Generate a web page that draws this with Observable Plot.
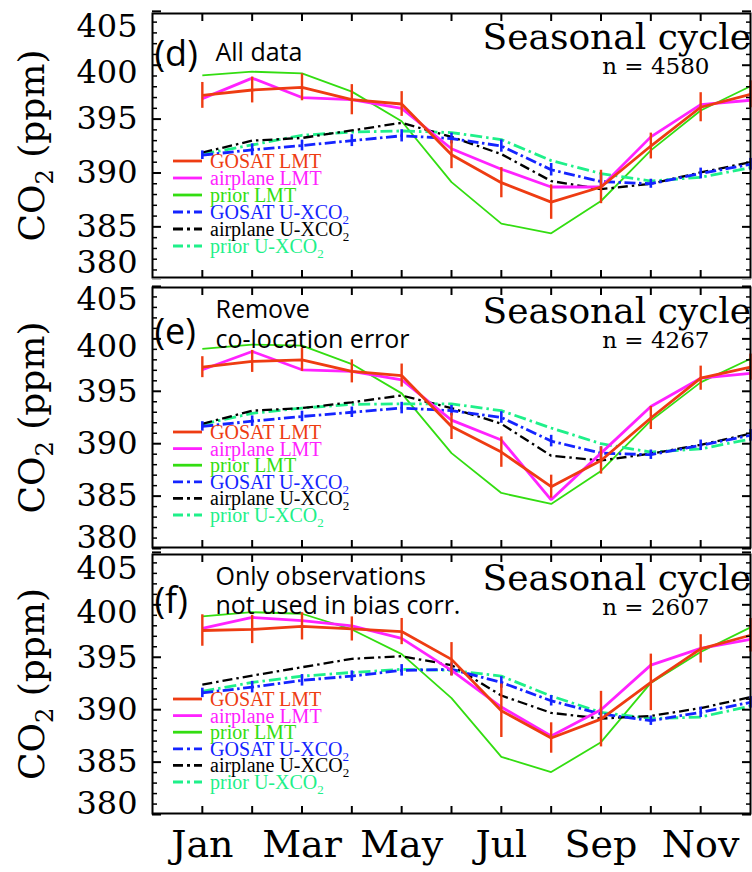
<!DOCTYPE html>
<html>
<head>
<meta charset="utf-8">
<script src="https://cdn.jsdelivr.net/npm/d3@7"></script>
<script src="https://cdn.jsdelivr.net/npm/@observablehq/plot@0.6"></script>
<style>
  html, body { margin: 0; padding: 0; background: #fff; }
  #chart { position: relative; width: 752px; height: 872px; overflow: hidden; background: #fff; }
  .layer { position: absolute; left: 0; }
</style>
</head>
<body>
<div id="chart"></div>
<script>
// ---------------- data ----------------
const months = [1, 2, 3, 4, 5, 6, 7, 8, 9, 10, 11, 12];
const monthLabels = ["Jan", "Feb", "Mar", "Apr", "May", "Jun", "Jul", "Aug", "Sep", "Oct", "Nov", "Dec"];
const labelledMonths = [1, 3, 5, 7, 9, 11];
const majorTicks = [380, 385, 390, 395, 400, 405];

const seriesNames = ["GOSAT LMT", "airplane LMT", "prior LMT", "GOSAT U-XCO2", "airplane U-XCO2", "prior U-XCO2"];
const panelLetters = ["(d)", "(e)", "(f)"];
const panelNotes = [["All data"], ["Remove", "co-location error"], ["Only observations", "not used in bias corr."]];
const panelTitle = "Seasonal cycle";
const panelCounts = [4580, 4267, 2607];

// (d) All data
const dGosatLMT    = [397.2, 397.7, 397.95, 396.8, 396.4, 391.7, 389.1, 387.3, 388.7, 392.5, 396.1, 397.3];
const dGosatLMTerr = [1.2, 1.2, 1.25, 1.4, 1.15, 1.3, 1.4, 1.6, 1.55, 1.2, 1.35, 1.25];
const dAirplaneLMT = [396.9, 398.8, 397.0, 396.8, 396.0, 392.25, 390.35, 388.7, 388.7, 393.35, 396.35, 396.75];
const dPriorLMT    = [399.05, 399.4, 399.25, 397.55, 394.8, 389.15, 385.3, 384.4, 387.4, 392.1, 395.8, 398.05];
const dGosatU      = [391.65, 392.15, 392.55, 393.0, 393.45, 393.2, 392.5, 390.3, 389.2, 389.0, 389.95, 390.8];
const dGosatUerr   = [0.4, 0.55, 0.5, 0.55, 0.57, 0.5, 0.57, 0.58, 0.57, 0.42, 0.5, 0.55];
const dAirplaneU   = [391.9, 393.0, 393.25, 393.95, 394.65, 393.35, 391.75, 389.25, 388.5, 389.0, 390.05, 391.0];
const dPriorU      = [391.75, 392.6, 393.5, 393.8, 393.9, 393.75, 393.1, 391.15, 389.95, 389.25, 389.6, 390.5];

// (e) Remove co-location error
const eGosatLMT    = [397.3, 397.85, 398.0, 396.9, 396.5, 391.65, 389.2, 385.9, 388.4, 392.45, 396.25, 397.3];
const eGosatLMTerr = [1.0, 1.05, 1.1, 1.1, 1.1, 1.25, 1.45, 1.1, 1.3, 1.1, 1.15, 1.25];
const eAirplaneLMT = [397.05, 398.8, 397.05, 396.9, 396.1, 392.25, 390.35, 384.65, 389.1, 393.55, 396.25, 396.7];
const ePriorLMT    = [399.05, 399.45, 399.35, 397.6, 394.8, 389.1, 385.3, 384.25, 387.4, 392.2, 395.85, 398.1];
const eGosatU      = [391.65, 392.15, 392.6, 393.0, 393.4, 393.15, 392.5, 390.25, 389.1, 388.95, 389.85, 390.8];
const eGosatUerr   = [0.45, 0.5, 0.5, 0.5, 0.55, 0.5, 0.55, 0.55, 0.6, 0.45, 0.5, 0.55];
const eAirplaneU   = [391.9, 393.15, 393.4, 393.95, 394.6, 393.4, 391.9, 388.85, 388.4, 389.05, 389.9, 390.95];
const ePriorU      = [391.85, 392.9, 393.4, 393.75, 393.8, 393.8, 393.15, 391.5, 390.0, 389.2, 389.5, 390.45];

// (f) Only observations not used in bias corr.
const fGosatLMT    = [397.55, 397.65, 397.95, 397.7, 397.45, 394.8, 389.9, 387.3, 389.1, 392.6, 395.8, 397.1];
const fGosatLMTerr = [1.5, 1.35, 1.3, 1.15, 1.25, 1.6, 2.55, 1.45, 2.65, 2.7, 1.35, 1.6];
const fAirplaneLMT = [397.75, 398.8, 398.5, 398.0, 396.8, 393.75, 390.25, 387.5, 390.0, 394.25, 395.85, 396.7];
const fPriorLMT    = [398.9, 399.3, 399.15, 397.65, 395.3, 391.1, 385.5, 384.05, 386.9, 392.55, 395.5, 397.85];
const fGosatU      = [391.6, 392.15, 392.8, 393.2, 393.75, 393.85, 392.6, 390.85, 389.6, 388.95, 389.75, 390.7];
const fGosatUerr   = [0.45, 0.55, 0.55, 0.5, 0.55, 0.6, 0.55, 0.5, 0.55, 0.45, 0.5, 0.55];
const fAirplaneU   = [392.4, 393.25, 394.05, 394.85, 395.1, 394.25, 391.35, 389.7, 389.15, 389.4, 390.15, 391.2];
const fPriorU      = [391.75, 392.6, 393.2, 393.55, 393.85, 393.75, 393.2, 391.3, 389.75, 389.15, 389.3, 390.35];

const panelSeries = [
  [dGosatLMT, dAirplaneLMT, dPriorLMT, dGosatU, dAirplaneU, dPriorU],
  [eGosatLMT, eAirplaneLMT, ePriorLMT, eGosatU, eAirplaneU, ePriorU],
  [fGosatLMT, fAirplaneLMT, fPriorLMT, fGosatU, fAirplaneU, fPriorU]
];
const panelErrors = [
  {0: dGosatLMTerr, 3: dGosatUerr},
  {0: eGosatLMTerr, 3: eGosatUerr},
  {0: fGosatLMTerr, 3: fGosatUerr}
];

// ---------------- styles / layout ----------------
const seriesStyle = [
  {stroke: "#ee3c12", width: 2.8, dash: null, errWidth: 2.4},
  {stroke: "#ff22ff", width: 2.8, dash: null},
  {stroke: "#33dd11", width: 1.8, dash: null},
  {stroke: "#1424ff", width: 2.8, dash: "11,3.5,2.5,3.5", errWidth: 2.6},
  {stroke: "#000000", width: 2.3, dash: "10,4,2.5,4"},
  {stroke: "#1ff08a", width: 2.8, dash: "12,4,2.5,4"}
];
const drawOrder = [2, 5, 4, 3, 1, 0];

// label offsets (px) of the outer tick labels, as in the composite original
const labelShift = [
  {low: -18, mid: 8, high: 15},
  {low: -11, mid: 8, high: 13},
  {low: -11, mid: 8, high: 16}
];
const layout = [
  {top: 0,   height: 280, marginTop: 13, marginBottom: 3,  domain: [380.3, 404.8], letterDy: 52, noteDy: [47],     legendTop: 148, legendStep: 17,   xLabels: false},
  {top: 280, height: 270, marginTop: 7,  marginBottom: 3,  domain: [380.1, 404.9], letterDy: 56, noteDy: [30, 60], legendTop: 145, legendStep: 16.6, xLabels: false},
  {top: 550, height: 322, marginTop: 4,  marginBottom: 59, domain: [380.1, 404.8], letterDy: 58, noteDy: [30, 59], legendTop: 145, legendStep: 16.6, xLabels: true}
];
const W = 752, ML = 152, MR = 2;
const serif = "DejaVu Serif";
const sans = "Open Sans";
const minorTicks = d3.range(380, 406).filter(v => v % 5 !== 0);

const chart = document.getElementById("chart");

layout.forEach((L, p) => {
  const marks = [];
  // series lines
  drawOrder.forEach(s => {
    const st = seriesStyle[s];
    const rows = months.map((m, i) => ({month: m, value: panelSeries[p][s][i], err: panelErrors[p][s] ? panelErrors[p][s][i] : 0}));
    marks.push(Plot.line(rows, {x: "month", y: "value", stroke: st.stroke, strokeWidth: st.width,
      strokeDasharray: st.dash || undefined, strokeLinejoin: "miter", strokeLinecap: "butt"}));
    if (panelErrors[p][s]) {
      marks.push(Plot.ruleX(rows, {x: "month", y1: d => d.value - d.err, y2: d => d.value + d.err,
        stroke: st.stroke, strokeWidth: st.errWidth}));
    }
  });
  const labelOpts = {anchor: "left", tickSize: 0, tickPadding: 15, fontSize: 32, fontFamily: serif, label: null};
  const sh = labelShift[p];
  // frame & ticks
  marks.push(
    Plot.frame({stroke: "#000", strokeWidth: 2}),
    Plot.axisY({anchor: "left", ticks: minorTicks, tickSize: -5, fill: "none", strokeWidth: 1.5, label: null}),
    Plot.axisY({anchor: "right", ticks: minorTicks, tickSize: -5, fill: "none", strokeWidth: 1.5, label: null}),
    Plot.axisY({anchor: "left", ticks: majorTicks, tickSize: -9, fill: "none", strokeWidth: 2, label: null}),
    Plot.axisY({anchor: "right", ticks: majorTicks, tickSize: -9, fill: "none", strokeWidth: 2, label: null}),
    Plot.axisY({...labelOpts, ticks: majorTicks.slice(1, 4)}),
    Plot.axisY({...labelOpts, ticks: majorTicks.slice(4, 5), dy: sh.mid}),
    Plot.axisY({...labelOpts, ticks: majorTicks.slice(5, 6), dy: sh.high}),
    Plot.axisY({...labelOpts, ticks: majorTicks.slice(0, 1), dy: sh.low}),
    Plot.axisX({anchor: "bottom", ticks: months.slice(0, 11), tickSize: -7, fill: "none", strokeWidth: 2, label: null}),
    Plot.axisX({anchor: "top", ticks: months.slice(0, 11), tickSize: -7, fill: "none", strokeWidth: 2, label: null})
  );
  if (L.xLabels) {
    marks.push(Plot.axisX({anchor: "bottom", ticks: labelledMonths, tickFormat: m => monthLabels[m - 1],
      tickSize: 0, tickPadding: 17, fontSize: 38, fontFamily: serif, label: null}));
  }
  // annotations
  marks.push(
    Plot.text([panelLetters[p]], {frameAnchor: "top-left", dx: 2, dy: L.letterDy, textAnchor: "start",
      lineAnchor: "bottom", fontFamily: sans, fontSize: 36, fill: "#000"}),
    Plot.text([panelTitle], {frameAnchor: "top-left", dx: 330, dy: 35, textAnchor: "start",
      lineAnchor: "bottom", fontFamily: serif, fontSize: 36, fill: "#000"}),
    Plot.text([`n = ${panelCounts[p]}`], {frameAnchor: "top-right", dx: -41, dy: 60, textAnchor: "end",
      lineAnchor: "bottom", fontFamily: serif, fontSize: 23, fill: "#000"}),
    Plot.text(["CO2 (ppm)"], {frameAnchor: "left", dx: -120, rotate: -90, textAnchor: "middle",
      lineAnchor: "middle", fontFamily: serif, fontSize: 36, fill: "#000"})
  );
  panelNotes[p].forEach((t, k) => {
    marks.push(Plot.text([t], {frameAnchor: "top-left", dx: 63, dy: L.noteDy[k], textAnchor: "start",
      lineAnchor: "bottom", fontFamily: sans, fontSize: 25, fill: "#000"}));
  });

  const svg = Plot.plot({
    width: W, height: L.height,
    marginLeft: ML, marginRight: MR, marginTop: L.marginTop, marginBottom: L.marginBottom,
    x: {domain: [0, 12]},
    y: {domain: L.domain},
    style: {fontFamily: serif, background: "white", color: "black", overflow: "hidden"},
    marks
  });
  // subscript in y title
  d3.select(svg).selectAll("text").filter(function () { return this.textContent === "CO2 (ppm)"; })
    .each(function () {
      const t = d3.select(this);
      t.text(null);
      t.append("tspan").text("CO");
      t.append("tspan").text("2").attr("font-size", 24).attr("dy", 9);
      t.append("tspan").text(" (ppm)").attr("dy", -9);
    });

  const wrap = document.createElement("div");
  wrap.className = "layer";
  wrap.style.top = L.top + "px";
  wrap.appendChild(svg);
  chart.appendChild(wrap);

  // in-plot legend
  const leg = d3.select(chart).append("svg").attr("class", "layer")
    .style("top", L.top + "px").attr("width", W).attr("height", L.height)
    .style("pointer-events", "none");
  seriesNames.forEach((name, i) => {
    const st = seriesStyle[i];
    const y = L.marginTop + L.legendTop + i * L.legendStep;
    leg.append("line").attr("x1", ML + 21).attr("x2", ML + 50).attr("y1", y).attr("y2", y)
      .attr("stroke", st.stroke).attr("stroke-width", 2.8)
      .attr("stroke-dasharray", st.dash ? "10,4,3,4" : null);
    const txt = leg.append("text").attr("x", ML + 58).attr("y", y + 7)
      .attr("font-family", "Liberation Serif").attr("font-size", 20).attr("fill", st.stroke);
    if (name.endsWith("CO2")) {
      txt.append("tspan").text(name.slice(0, -1));
      txt.append("tspan").text("2").attr("font-size", 13).attr("dy", 5);
    } else {
      txt.text(name);
    }
  });
});
</script>
</body>
</html>
